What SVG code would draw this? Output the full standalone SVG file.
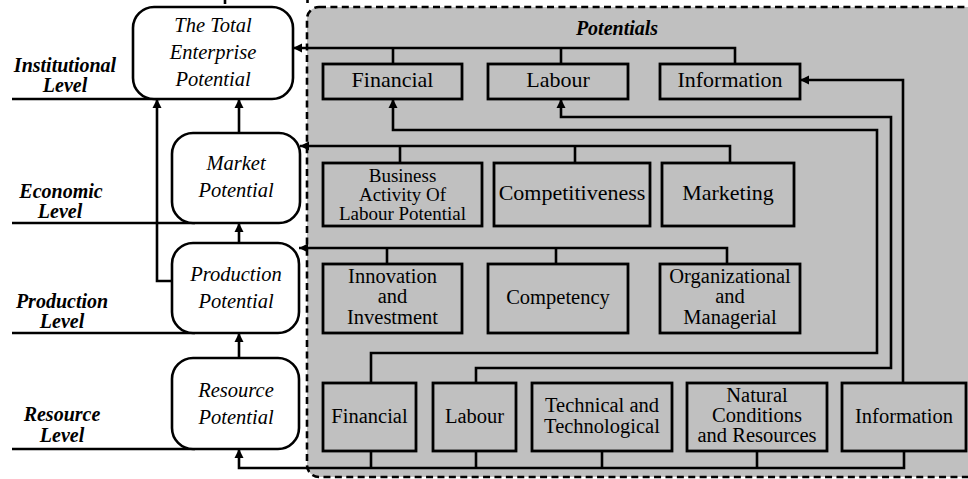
<svg xmlns="http://www.w3.org/2000/svg" width="968" height="479" viewBox="0 0 968 479">
<style>
text{font-family:"Liberation Serif","Times New Roman",serif;fill:#000}
.lvl{font-size:20px;font-weight:bold;font-style:italic;text-anchor:middle}
.pot{font-size:20.5px;font-style:italic;text-anchor:middle}
.big{font-size:22px;text-anchor:middle}
.sm{font-size:20.5px;text-anchor:middle}
.xs{font-size:19px;text-anchor:middle}
.rb{fill:#fff;stroke:#000;stroke-width:2.6}
.bx{fill:#c0c0c0;stroke:#000;stroke-width:2.8}
.ln{fill:none;stroke:#000;stroke-width:2.6}
.ar{fill:none;stroke:#000;stroke-width:2.6;marker-end:url(#ah)}
</style>
<defs>
<marker id="ah" viewBox="0 0 10 10" refX="10" refY="5" markerUnits="userSpaceOnUse" markerWidth="9" markerHeight="10" orient="auto">
<path d="M0,0 L10,5 L0,10 z" fill="#000"/>
</marker>
</defs>

<g id="potentials-area">
<rect x="307" y="7" width="700" height="470" rx="12" fill="#c0c0c0" stroke="#000" stroke-width="2.6" stroke-dasharray="7 4.4"/>
<line x1="225" y1="0" x2="225" y2="4" stroke="#000" stroke-width="2.6"/>
<line x1="307.5" y1="0" x2="307.5" y2="3" stroke="#000" stroke-width="2.6"/>
<text x="617" y="35" class="lvl">Potentials</text>
</g>

<g id="levels">
<line x1="12" y1="99" x2="160" y2="99" class="ln"/>
<line x1="12" y1="223" x2="195" y2="223" class="ln"/>
<line x1="12" y1="333" x2="195" y2="333" class="ln"/>
<line x1="12" y1="449" x2="195" y2="449" class="ln"/>
<text class="lvl" x="65" y="72">Institutional</text>
<text class="lvl" x="65" y="92">Level</text>
<text class="lvl" x="61" y="198">Economic</text>
<text class="lvl" x="60" y="218">Level</text>
<text class="lvl" x="62" y="308">Production</text>
<text class="lvl" x="62" y="328">Level</text>
<text class="lvl" x="62" y="421">Resource</text>
<text class="lvl" x="62" y="442">Level</text>
</g>

<g id="connectors">
<path class="ar" d="M735,64 V48 H293"/>
<line class="ln" x1="393" y1="48" x2="393" y2="64"/>
<line class="ln" x1="561" y1="48" x2="561" y2="64"/>
<path class="ar" d="M730,163 V146 H300"/>
<line class="ln" x1="400" y1="146" x2="400" y2="163"/>
<line class="ln" x1="575" y1="146" x2="575" y2="163"/>
<path class="ar" d="M727,264 V248 H299"/>
<line class="ln" x1="387" y1="248" x2="387" y2="264"/>
<line class="ln" x1="556" y1="248" x2="556" y2="264"/>
<path class="ar" d="M371,383 V353 H877 V130 H393 V99"/>
<path class="ar" d="M476,383 V368 H891 V117 H561 V99"/>
<path class="ar" d="M903,383 V80 H800"/>
<path class="ar" d="M904,451 V468 H239 V449"/>
<line class="ln" x1="371" y1="451" x2="371" y2="468"/>
<line class="ln" x1="476" y1="451" x2="476" y2="468"/>
<line class="ln" x1="602" y1="451" x2="602" y2="468"/>
<line class="ln" x1="757" y1="451" x2="757" y2="468"/>
<path class="ar" d="M239,358 V333"/>
<path class="ar" d="M239,243 V223"/>
<path class="ar" d="M239,133 V99"/>
<path class="ar" d="M172,281 H157 V99"/>
</g>

<g id="total">
<rect class="rb" x="133" y="7" width="160" height="92" rx="21"/>
<text class="pot" x="213" y="32">The Total</text>
<text class="pot" x="213" y="59">Enterprise</text>
<text class="pot" x="213" y="86">Potential</text>
</g>
<g id="market">
<rect class="rb" x="172" y="133" width="128" height="90" rx="21"/>
<text class="pot" x="236" y="170">Market</text>
<text class="pot" x="236" y="197">Potential</text>
</g>
<g id="production">
<rect class="rb" x="172" y="243" width="127" height="90" rx="21"/>
<text class="pot" x="236" y="281">Production</text>
<text class="pot" x="236" y="308">Potential</text>
</g>
<g id="resource">
<rect class="rb" x="172" y="358" width="127" height="91" rx="21"/>
<text class="pot" x="236" y="397">Resource</text>
<text class="pot" x="236" y="424">Potential</text>
</g>

<g id="top-financial">
<rect class="bx" x="323" y="64" width="139" height="35"/>
<text class="big" x="392.5" y="87">Financial</text>
</g>
<g id="top-labour">
<rect class="bx" x="488" y="64" width="140" height="35"/>
<text class="big" x="558" y="87">Labour</text>
</g>
<g id="top-information">
<rect class="bx" x="660" y="64" width="140" height="35"/>
<text class="big" x="730" y="87">Information</text>
</g>

<g id="business">
<rect class="bx" x="323" y="163" width="159" height="63"/>
<text class="xs" x="402.5" y="182">Business</text>
<text class="xs" x="402.5" y="201">Activity Of</text>
<text class="xs" x="402.5" y="220">Labour Potential</text>
</g>
<g id="competitiveness">
<rect class="bx" x="494" y="163" width="156" height="63"/>
<text class="big" x="572" y="200">Competitiveness</text>
</g>
<g id="marketing">
<rect class="bx" x="662" y="163" width="132" height="63"/>
<text class="big" x="728" y="200">Marketing</text>
</g>

<g id="innovation">
<rect class="bx" x="323" y="264" width="139" height="69"/>
<text class="sm" x="392.5" y="283">Innovation</text>
<text class="sm" x="392.5" y="303">and</text>
<text class="sm" x="392.5" y="324">Investment</text>
</g>
<g id="competency">
<rect class="bx" x="488" y="264" width="140" height="69"/>
<text class="sm" x="558" y="304">Competency</text>
</g>
<g id="organizational">
<rect class="bx" x="660" y="264" width="140" height="69"/>
<text class="sm" x="730" y="283">Organizational</text>
<text class="sm" x="730" y="303">and</text>
<text class="sm" x="730" y="324">Managerial</text>
</g>

<g id="res-financial">
<rect class="bx" x="323" y="383" width="93" height="68"/>
<text class="sm" x="369.5" y="423">Financial</text>
</g>
<g id="res-labour">
<rect class="bx" x="433" y="383" width="83" height="68"/>
<text class="sm" x="474.5" y="423">Labour</text>
</g>
<g id="res-technical">
<rect class="bx" x="532" y="383" width="140" height="68"/>
<text class="sm" x="602" y="412">Technical and</text>
<text class="sm" x="602" y="433">Technological</text>
</g>
<g id="res-natural">
<rect class="bx" x="687" y="383" width="140" height="68"/>
<text class="sm" x="757" y="402">Natural</text>
<text class="sm" x="757" y="422">Conditions</text>
<text class="sm" x="757" y="442">and Resources</text>
</g>
<g id="res-information">
<rect class="bx" x="842" y="383" width="124" height="68"/>
<text class="sm" x="904" y="423">Information</text>
</g>
</svg>
